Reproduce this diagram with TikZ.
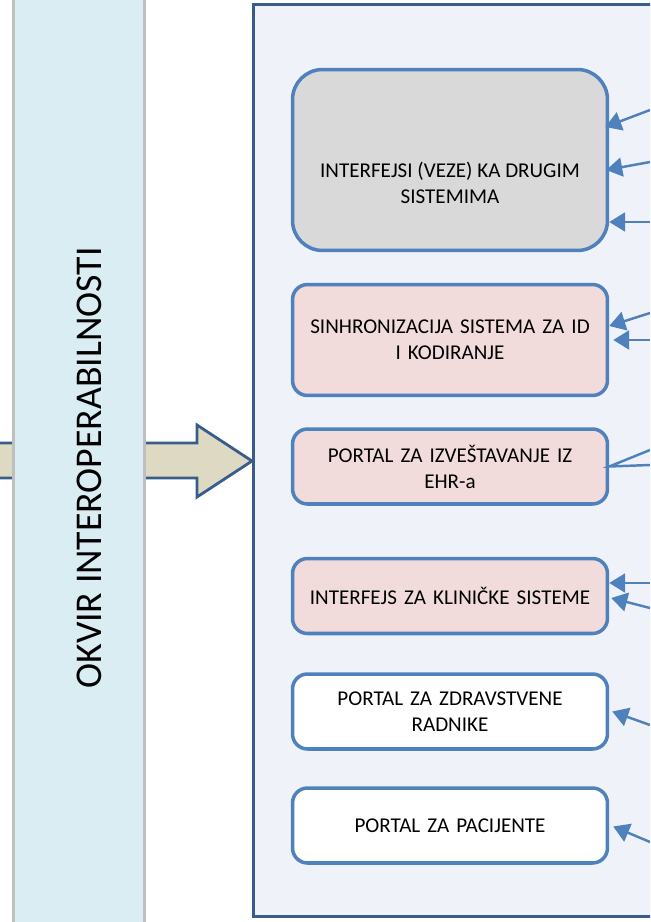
\documentclass[tikz,border=0pt]{standalone}
\usepackage{fontspec}
\setmainfont{Carlito}
\usetikzlibrary{arrows.meta,calc}
\definecolor{frameline}{HTML}{385D8A}
\definecolor{boxline}{HTML}{4F81BD}
\definecolor{framefill}{HTML}{EFF3F9}
\definecolor{colfill}{HTML}{DAEDF3}
\definecolor{colline}{HTML}{BFBFBF}
\definecolor{arrowfill}{HTML}{DDD9C3}
\definecolor{grayfill}{HTML}{D9D9D9}
\definecolor{pinkfill}{HTML}{F2DCDB}
\begin{document}
\begin{tikzpicture}[x=.02cm,y=-.02cm,
  box/.style={draw=boxline,line width=2pt,rounded corners=.3cm,minimum width=6.3cm,minimum height=1.5cm,text width=6cm,align=center,inner sep=0pt,font=\fontsize{12}{14.8}\selectfont},
  link/.style={boxline,line width=1.4pt,-{Triangle[length=.32cm,width=.38cm]}}]
  \useasboundingbox (0,0) rectangle (650,922); \clip (0,0) rectangle (650,922);
  \draw[frameline,line width=1.6pt,fill=arrowfill] (-10,443)--(197,443)--(197,425)--(252,461)--(197,497)--(197,478)--(-10,478)--cycle;
  \draw[colline,line width=1.9pt,fill=colfill] (13.5,-10) rectangle (144.5,932);
  \node[rotate=90,anchor=base,font=\fontsize{21.5}{26}\selectfont] (okvir) at (101,468) {OKVIR INTEROPERABILNOSTI};
  \draw[frameline,line width=1.9pt,fill=framefill] (253.5,4.5) rectangle (680,916.5);
  \node[box,fill=grayfill,minimum height=3.62cm,rounded corners=.6cm] (ifc) at (450,160) {};
  \node[align=center,font=\fontsize{12}{14.8}\selectfont] (ifctxt) at (450,183) {INTERFEJSI (VEZE) KA DRUGIM\\SISTEMIMA};
  \node[box,fill=pinkfill,minimum height=2.22cm] (sync) at (450,340) {SINHRONIZACIJA SISTEMA ZA ID\\I KODIRANJE};
  \node[box,fill=pinkfill] (rep) at (450,466.5) {PORTAL ZA IZVEŠTAVANJE IZ\\EHR-a};
  \node[box,fill=pinkfill] (clin) at (450,596) {INTERFEJS ZA KLINIČKE SISTEME};
  \node[box,fill=white] (staff) at (450,711.5) {PORTAL ZA ZDRAVSTVENE\\RADNIKE};
  \node[box,fill=white] (pat) at (450,825.5) {PORTAL ZA PACIJENTE};
  \foreach \n/\y in {1/110,2/162,3/222,4/313,5/340,6/450,7/465,8/583,9/608,10/725,11/842}
    \coordinate (r\n) at (650,\y);
  \draw[link] (r1)--($(ifc.east)+(-4,-33)$); \draw[link] (r2)--($(ifc.east)+(-3,10)$); \draw[link] (r3)--($(ifc.east)+(0,62)$);
  \draw[link] (r4)--($(sync.east)+(0,-14)$); \draw[link] (r5)--($(sync.east)+(4,0)$);
  \draw[boxline,line width=1.4pt] (r6)--(rep.east)--(r7);
  \draw[link] (r8)--($(clin.east)+(0,-13)$); \draw[link] (r9)--($(clin.east)+(2,2)$);
  \draw[link] (r10)--($(staff.east)+(3,0)$);
  \draw[link] (r11)--($(pat.east)+(4,1)$);
\end{tikzpicture}
\end{document}
